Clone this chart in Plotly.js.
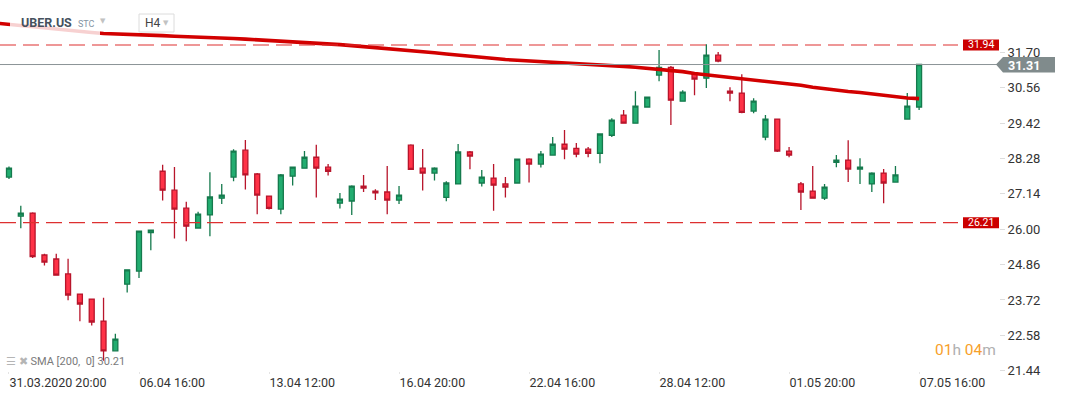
<!DOCTYPE html>
<html>
<head>
<meta charset="utf-8">
<script src="https://cdn.plot.ly/plotly-3.0.1.min.js"></script>
<style>html,body{margin:0;padding:0;background:#fff;}#chart{width:1067px;height:395px;}</style>
</head>
<body>
<div id="chart"></div>
<script>
// ---- data (H4 candles, UBER.US) ----
const open = [27.68,26.42,26.52,25.17,25.04,24.56,23.91,23.75,23.04,22.08,
  24.23,24.65,25.89,27.87,27.26,26.68,26.04,26.46,27.00,27.68,
  28.55,27.78,27.07,26.65,27.71,27.97,28.32,28.00,26.84,26.91,
  27.39,27.23,27.20,26.94,28.71,27.97,27.81,27.03,27.46,28.49,
  27.49,27.65,27.46,27.49,28.26,28.10,28.39,28.74,28.61,28.58,
  28.45,29.03,29.68,29.42,29.94,30.97,31.22,30.13,31.03,30.87,
  31.61,30.45,30.39,29.81,28.97,29.55,28.52,27.46,27.23,27.00,
  28.16,28.23,27.94,27.46,27.81,27.52,29.55,29.94];
const close = [27.97,26.52,25.12,24.94,24.52,23.88,23.59,23.01,22.08,22.46,
  24.69,25.94,25.97,27.26,26.65,26.10,26.49,27.04,27.10,28.52,
  27.75,27.10,26.67,27.75,28.00,28.32,27.97,27.87,26.97,27.39,
  27.33,27.17,26.94,27.10,27.93,27.81,27.97,27.49,28.49,28.36,
  27.68,27.42,27.36,28.26,28.10,28.42,28.74,28.58,28.42,28.45,
  29.07,29.52,29.42,29.97,30.26,31.22,30.16,30.42,30.84,31.61,
  31.42,30.39,29.77,30.13,29.55,28.52,28.39,27.20,27.00,27.36,
  28.23,27.94,28.00,27.81,27.49,27.75,29.97,31.31];
const high = [28.02,26.76,26.55,25.21,25.21,25.05,23.93,23.77,23.79,22.63,
  24.70,25.95,25.98,28.08,28.01,26.89,26.56,27.84,27.46,28.58,
  28.88,27.81,27.08,27.78,28.01,28.52,28.72,28.10,27.17,27.42,
  27.75,27.29,28.04,27.39,28.74,28.59,28.00,27.55,28.75,28.52,
  27.91,28.10,27.68,28.27,28.29,28.52,28.97,29.20,28.78,28.65,
  29.08,29.58,29.84,30.45,30.27,31.78,31.26,30.48,31.04,31.96,
  31.71,30.58,31.00,30.22,29.68,29.55,28.65,27.52,28.04,27.46,
  28.39,28.87,28.29,27.84,27.94,28.04,30.39,31.33];
const low = [27.62,26.03,25.07,24.83,24.50,23.71,23.03,22.90,21.76,22.06,
  23.96,24.43,25.32,26.93,25.70,25.61,26.03,25.77,26.81,27.55,
  27.28,26.48,26.64,26.48,27.41,27.96,27.02,27.73,26.67,26.46,
  27.20,26.94,26.48,26.81,27.93,27.25,27.57,26.90,27.45,27.93,
  27.38,26.60,27.02,27.48,27.51,27.99,28.38,28.26,28.32,28.32,
  28.13,28.97,29.41,29.41,29.93,30.77,29.36,30.12,30.32,30.55,
  31.38,30.13,29.74,29.74,28.87,28.49,28.32,26.62,27.00,26.94,
  28.00,27.52,27.46,27.20,26.84,27.52,29.55,29.84];
// SMA(200); first value belongs to the candle just before the first visible one
const sma200 = [32.64,32.60,32.57,32.53,32.50,32.46,32.42,32.38,32.34,32.31,
  32.30,32.28,32.27,32.26,32.24,32.22,32.21,32.19,32.18,32.16,
  32.15,32.13,32.11,32.09,32.07,32.05,32.03,32.00,31.98,31.95,
  31.92,31.89,31.86,31.83,31.80,31.77,31.73,31.69,31.65,31.61,
  31.58,31.54,31.50,31.47,31.45,31.43,31.41,31.39,31.37,31.35,
  31.33,31.31,31.28,31.25,31.22,31.19,31.16,31.12,31.08,31.02,
  30.98,30.94,30.90,30.85,30.81,30.77,30.72,30.68,30.64,30.58,
  30.53,30.47,30.44,30.41,30.36,30.31,30.26,30.23,30.21];
const tickLabels = ["31.03.2020 20:00","06.04 16:00","13.04 12:00","16.04 20:00",
  "22.04 16:00","28.04 12:00","01.05 20:00","07.05 16:00"];
const tickEvery = 11;
const priceTicks = [21.44,22.58,23.72,24.86,26.00,27.14,28.28,29.42,30.56,31.70];
const resistance = 31.94, support = 26.21, lastPrice = 31.31;
const smaLabel = "SMA [200,  0] 30.21";

// ---- layout helpers ----
const W = 1067, H = 395, M = {l:0, r:68, t:0, b:24};
const PW = W - M.l - M.r, PH = H - M.t - M.b;
const px = v => v / PW;            // pixel -> paper x
const py = v => 1 - v / PH;        // pixel -> paper y
const FONT = 'Roboto, "Open Sans", sans-serif';

const idx = open.map((_, i) => i);
const smaX = sma200.map((_, i) => i - 1);

const candles = {
  type: 'candlestick', x: idx, open: open, high: high, low: low, close: close,
  increasing: {line: {color: '#157a4d', width: 1.3}, fillcolor: '#22ad70'},
  decreasing: {line: {color: '#b8152b', width: 1.3}, fillcolor: '#ff3247'},
  whiskerwidth: 0, hoverinfo: 'skip'
};
const sma = {
  type: 'scatter', mode: 'lines', x: smaX, y: sma200,
  line: {color: '#d20000', width: 3.6}, hoverinfo: 'skip'
};

const shapes = [
  // translucent header backdrop
  {type:'rect', xref:'paper', yref:'paper', x0:px(10), x1:px(100), y0:py(40), y1:py(6),
   fillcolor:'rgba(255,255,255,0.82)', line:{width:0}, layer:'above'},
  // H4 box
  {type:'rect', xref:'paper', yref:'paper', x0:px(139), x1:px(174), y0:py(32), y1:py(14),
   fillcolor:'#ffffff', line:{color:'#dcdcdc', width:1}, layer:'above'},
  // level lines
  {type:'line', xref:'paper', yref:'y', x0:0, x1:px(958), y0:resistance, y1:resistance,
   line:{color:'#dd3030', width:1.2, dash:'16px,7px'}},
  {type:'line', xref:'paper', yref:'y', x0:0, x1:px(958), y0:support, y1:support,
   line:{color:'#dd3030', width:1.2, dash:'16px,7px'}},
  {type:'line', xref:'paper', yref:'y', x0:0, x1:1, y0:lastPrice, y1:lastPrice,
   line:{color:'#8c9497', width:1}},
  // red tags
  {type:'rect', xref:'paper', yref:'y', x0:px(963), x1:1, y0:resistance-0.175, y1:resistance+0.175,
   fillcolor:'#cc0000', line:{width:0}},
  {type:'rect', xref:'paper', yref:'y', x0:px(963), x1:1, y0:support-0.175, y1:support+0.175,
   fillcolor:'#cc0000', line:{width:0}},
  // grey price tag with arrow
  {type:'path', xref:'paper', yref:'y',
   path:`M ${px(996)},${lastPrice} L ${px(1003)},${lastPrice+0.24} L ${px(1055)},${lastPrice+0.24} L ${px(1055)},${lastPrice-0.26} L ${px(1003)},${lastPrice-0.26} Z`,
   fillcolor:'#808b8c', line:{width:0}}
];

const annotations = [
  {xref:'paper', yref:'y', x:px(981), y:resistance, text:resistance.toFixed(2), showarrow:false,
   xanchor:'center', yanchor:'middle', font:{family:FONT, size:10.5, color:'#ffffff'}},
  {xref:'paper', yref:'y', x:px(981), y:support, text:support.toFixed(2), showarrow:false,
   xanchor:'center', yanchor:'middle', font:{family:FONT, size:10.5, color:'#ffffff'}},
  {xref:'paper', yref:'y', x:px(1006), y:lastPrice - 0.02, text:'<b>'+lastPrice.toFixed(2)+'</b>', showarrow:false,
   xanchor:'left', yanchor:'middle', font:{family:FONT, size:12.5, color:'#ffffff'}},
  // header
  {xref:'paper', yref:'paper', x:px(19), y:py(22), text:'<b>UBER.US</b>', showarrow:false,
   xanchor:'left', yanchor:'middle', font:{family:FONT, size:12.5, color:'#46525e'}},
  {xref:'paper', yref:'paper', x:px(76), y:py(24), text:'STC', showarrow:false,
   xanchor:'left', yanchor:'middle', font:{family:FONT, size:9, color:'#8594a3'}},
  {xref:'paper', yref:'paper', x:px(103), y:py(21), text:'▼', showarrow:false,
   xanchor:'center', yanchor:'middle', font:{family:'DejaVu Sans', size:7, color:'#c2c2c2'}},
  {xref:'paper', yref:'paper', x:px(143), y:py(23), text:'H4', showarrow:false,
   xanchor:'left', yanchor:'middle', font:{family:FONT, size:12, color:'#444'}},
  {xref:'paper', yref:'paper', x:px(166), y:py(23), text:'▼', showarrow:false,
   xanchor:'center', yanchor:'middle', font:{family:'DejaVu Sans', size:7, color:'#c2c2c2'}},
  // indicator legend
  {xref:'paper', yref:'paper', x:px(4), y:py(361), showarrow:false, xanchor:'left', yanchor:'middle',
   text:'<span style="color:#b5b5b5">☰ ✖</span> <span style="color:#7a7a7a">'+smaLabel+'</span>',
   font:{family:FONT, size:11, color:'#7a7a7a'}},
  // countdown
  {xref:'paper', yref:'paper', x:px(998), y:py(350), showarrow:false, xanchor:'right', yanchor:'middle',
   text:'<span style="color:#f7a02a">01</span><span style="color:#b0b0b0">h</span> <span style="color:#f7a02a">04</span><span style="color:#b0b0b0">m</span>',
   font:{family:FONT, size:15.5, color:'#f7a02a'}}
];

const layout = {
  width: W, height: H, margin: M,
  paper_bgcolor: '#ffffff', plot_bgcolor: '#ffffff',
  showlegend: false, dragmode: false, boxgap: 0.4,
  xaxis: {
    range: [-0.76, 83.76], showgrid: false, zeroline: false, showline: false,
    tickvals: tickLabels.map((_, i) => i * tickEvery), ticktext: tickLabels,
    ticks: 'outside', ticklen: 2, tickcolor: '#e4e4e4',
    ticklabelposition: 'outside right',
    tickfont: {family: FONT, size: 12.5, color: '#333333'},
    rangeslider: {visible: false}, fixedrange: true
  },
  yaxis: {
    side: 'right', range: [21.43, 33.39], showgrid: false, zeroline: false, showline: false,
    tickvals: priceTicks, ticktext: priceTicks.map(v => v.toFixed(2)),
    ticks: 'outside', ticklen: 5, tickcolor: '#dddddd',
    tickfont: {family: FONT, size: 13, color: '#333333'}, fixedrange: true
  },
  shapes: shapes, annotations: annotations
};

Plotly.newPlot('chart', [candles, sma], layout, {displayModeBar: false, staticPlot: true});
</script>
</body>
</html>
